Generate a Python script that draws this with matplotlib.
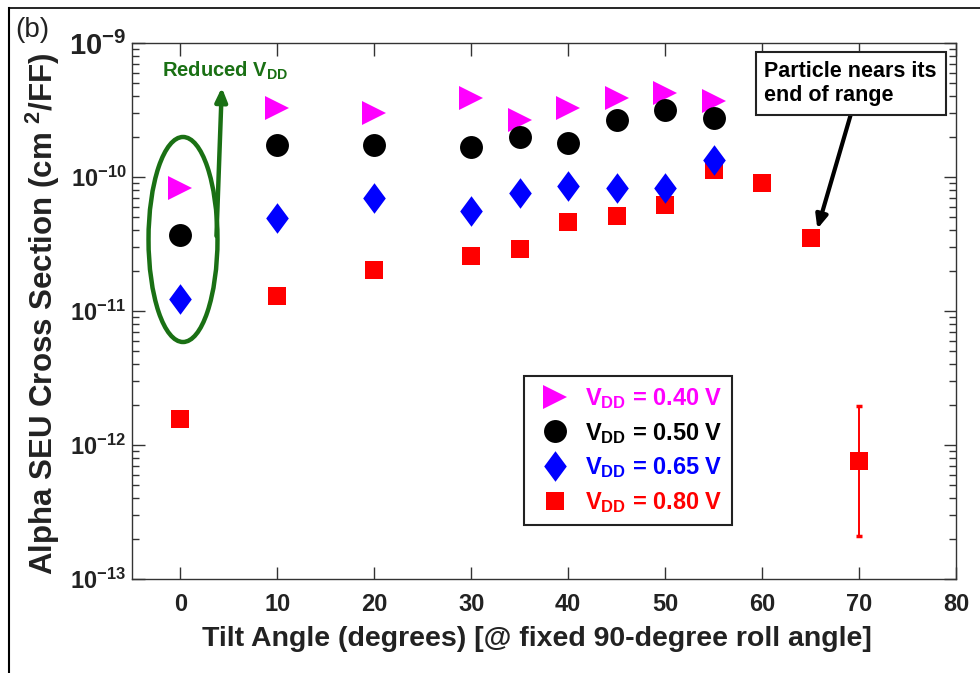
import matplotlib
matplotlib.use("Agg")
import matplotlib.pyplot as plt
from matplotlib.patches import Ellipse
from matplotlib.lines import Line2D
from matplotlib.ticker import LogLocator, FixedLocator, NullLocator
import numpy as np

plt.rcParams['font.family'] = ['Liberation Sans', 'DejaVu Sans']
plt.rcParams['mathtext.fontset'] = 'custom'
plt.rcParams['mathtext.rm'] = 'Liberation Sans:bold'
plt.rcParams['mathtext.bf'] = 'Liberation Sans:bold'
plt.rcParams['mathtext.it'] = 'Liberation Sans:bold'

# Tilt angles (degrees) and alpha SEU cross sections (cm^2/FF)
tilt_040 = [0, 10, 20, 30, 35, 40, 45, 50, 55]
xs_040 = [8.3e-11, 3.25e-10, 3.0e-10, 3.86e-10, 2.65e-10, 3.25e-10, 3.86e-10, 4.2e-10, 3.7e-10]

tilt_050 = [0, 10, 20, 30, 35, 40, 45, 50, 55]
xs_050 = [3.7e-11, 1.73e-10, 1.73e-10, 1.67e-10, 1.98e-10, 1.79e-10, 2.65e-10, 3.14e-10, 2.74e-10]

tilt_065 = [0, 10, 20, 30, 35, 40, 45, 50, 55]
xs_065 = [1.22e-11, 4.97e-11, 7.0e-11, 5.6e-11, 7.6e-11, 8.6e-11, 8.3e-11, 8.3e-11, 1.34e-10]

tilt_080 = [0, 10, 20, 30, 35, 40, 45, 50, 55, 60, 65]
xs_080 = [1.55e-12, 1.29e-11, 2.01e-11, 2.56e-11, 2.88e-11, 4.64e-11, 5.14e-11, 6.2e-11, 1.13e-10, 9.0e-11, 3.5e-11]

# Low-count point at 70 degrees with its uncertainty range
tilt_080_err = [70]
xs_080_err = [7.6e-13]
xs_080_err_lo = [2.1e-13]
xs_080_err_hi = [1.94e-12]

labels = [r'V$_{\mathregular{DD}}$ = 0.40 V', r'V$_{\mathregular{DD}}$ = 0.50 V',
          r'V$_{\mathregular{DD}}$ = 0.65 V', r'V$_{\mathregular{DD}}$ = 0.80 V']
colors = ['#ff00ff', '#000000', '#0000ff', '#ff0000']

x_ticks = [0, 10, 20, 30, 40, 50, 60, 70, 80]

# tall diamond marker
tall_diamond = [(0, 1.0), (0.74, 0), (0, -1.0), (-0.74, 0), (0, 1.0)]

fig = plt.figure(figsize=(9.8, 6.73), dpi=100)
ax = fig.add_axes([132 / 980, 1 - 579 / 673, 824 / 980, 536 / 673])

ax.plot(tilt_040, xs_040, linestyle='none', marker='>', markersize=17.5,
        color=colors[0], markeredgewidth=0, zorder=3)
ax.plot(tilt_050, xs_050, linestyle='none', marker='o', markersize=16.5,
        color=colors[1], markeredgewidth=0, zorder=3)
ax.plot(tilt_065, xs_065, linestyle='none', marker=tall_diamond, markersize=22,
        color=colors[2], markeredgewidth=0, zorder=4)
ax.plot(tilt_080, xs_080, linestyle='none', marker='s', markersize=13,
        color=colors[3], markeredgewidth=0, zorder=2)
yerr = [[v - lo for v, lo in zip(xs_080_err, xs_080_err_lo)],
        [hi - v for v, hi in zip(xs_080_err, xs_080_err_hi)]]
ax.errorbar(tilt_080_err, xs_080_err, yerr=yerr, fmt='none', ecolor=colors[3],
            elinewidth=1.4, capsize=2.5, capthick=2.5, zorder=2)
ax.plot(tilt_080_err, xs_080_err, linestyle='none', marker='s', markersize=13,
        color=colors[3], markeredgewidth=0, zorder=3)

ax.set_yscale('log')
ax.set_ylim(1e-13, 1e-9)
ax.set_xlim(-5, 80)
ax.xaxis.set_major_locator(FixedLocator(x_ticks))
ax.xaxis.set_minor_locator(NullLocator())
ax.yaxis.set_major_locator(LogLocator(base=10, numticks=10))
ax.yaxis.set_minor_locator(LogLocator(base=10, subs=np.arange(2, 10), numticks=20))

for sp in ax.spines.values():
    sp.set_linewidth(1.0)
    sp.set_color('#333333')
ax.tick_params(which='both', direction='in', top=True, right=True, color='#333333')
ax.tick_params(which='major', length=9, width=1.0)
ax.tick_params(which='minor', length=5, width=1.0)
ax.tick_params(axis='x', labelsize=17, pad=10, labelcolor='#222222')
ax.tick_params(axis='y', labelsize=17, pad=4, labelcolor='#222222')
for lab in ax.get_xticklabels():
    lab.set_fontweight('bold')
fig.canvas.draw()
for lab in ax.get_yticklabels():
    lab.set_fontweight('bold')
    if '-9' in lab.get_text():
        lab.set_fontsize(21)

ax.set_xlabel('Tilt Angle (degrees) [@ fixed 90-degree roll angle]',
              fontsize=20.5, fontweight='bold', color='#222222')
ax.xaxis.set_label_coords(0.492, -0.087)
ax.set_ylabel(r'Alpha SEU Cross Section (cm $^{\mathregular{2}}$/FF)',
              fontsize=22.5, fontweight='bold', color='#222222')
ax.yaxis.set_label_coords(-0.085, 0.494)

# legend
handles = [
    Line2D([], [], linestyle='none', marker='>', markersize=17.5, color=colors[0], markeredgewidth=0),
    Line2D([], [], linestyle='none', marker='o', markersize=16.5, color=colors[1], markeredgewidth=0),
    Line2D([], [], linestyle='none', marker=tall_diamond, markersize=22, color=colors[2], markeredgewidth=0),
    Line2D([], [], linestyle='none', marker='s', markersize=13, color=colors[3], markeredgewidth=0),
]
leg = ax.legend(handles, labels, loc='upper left', bbox_to_anchor=((524 - 132) / 824, (579 - 376) / 536),
                prop={'weight': 'bold', 'size': 17}, frameon=True, fancybox=False,
                edgecolor='#222222', framealpha=1, handletextpad=0.35, labelspacing=0.42,
                borderpad=0.42, handlelength=1.8, borderaxespad=0)
leg.get_frame().set_linewidth(1.5)
for t, c in zip(leg.get_texts(), colors):
    t.set_color(c)

# reduced supply voltage annotation
green = '#1a7014'
ell = Ellipse((0.0619, 0.6334), 0.0837, 0.3825, transform=ax.transAxes,
              fill=False, edgecolor=green, linewidth=3.2, zorder=5)
ax.add_patch(ell)
ax.annotate('', xy=(0.109, 0.917), xycoords='axes fraction',
            xytext=(0.1025, 0.64), textcoords='axes fraction',
            arrowprops=dict(arrowstyle='-|>,head_length=0.8,head_width=0.35',
                            color=green, lw=3.2, shrinkA=0, shrinkB=0), zorder=5)
ax.text(0.113, 0.948, r'Reduced V$_{\mathregular{DD}}$', transform=ax.transAxes,
        ha='center', va='center', fontsize=14.5, fontweight='bold', color=green)

# end-of-range annotation
ax.annotate('', xy=(65.7, 4.1e-11), xycoords='data',
            xytext=(0.872, 0.865), textcoords='axes fraction',
            arrowprops=dict(arrowstyle='-|>,head_length=0.8,head_width=0.35',
                            color='black', lw=3.0, shrinkA=0, shrinkB=0), zorder=5)
ax.text(0.7675, 0.9245, 'Particle nears its\nend of range', transform=ax.transAxes,
        ha='left', va='center', fontsize=15.5, fontweight='bold', color='black',
        linespacing=1.2, zorder=6,
        bbox=dict(boxstyle='square,pad=0.4', facecolor='white', edgecolor='#222222', linewidth=1.5))

fig.text(15 / 980, 1 - 30 / 673, '(b)', fontsize=20, color='#222222', va='center', ha='left')

# outer frame lines
fig.add_artist(Line2D([9 / 980, 9 / 980], [0, 1 - 8 / 673], transform=fig.transFigure,
                      color='black', linewidth=1.5))
fig.add_artist(Line2D([9 / 980, 1], [1 - 8 / 673, 1 - 8 / 673], transform=fig.transFigure,
                      color='black', linewidth=1.2))

fig.savefig('out.png', dpi=100)
